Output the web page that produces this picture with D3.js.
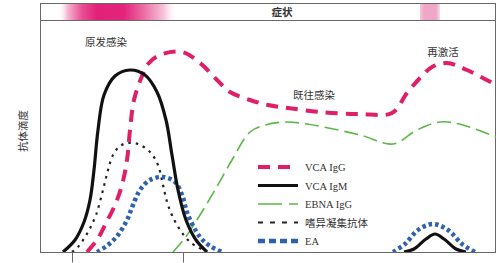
<!DOCTYPE html>
<html>
<head>
<meta charset="utf-8">
<script src="https://cdn.jsdelivr.net/npm/d3@7"></script>
<style>
  body { margin: 0; background: #fff; }
  svg { display: block; }
  .lbl { font-family: "Noto Sans CJK SC", sans-serif; fill: #333; }
  .leg { font-family: "Liberation Serif", "DejaVu Serif", serif; fill: #333; font-size: 10.5px; }
</style>
</head>
<body>
<svg id="chart" width="500" height="263"></svg>
<script>
// time (arbitrary units) / titre (arbitrary units)
var vcaIgM = [[5.75,0],[8.75,6],[11,15],[12.5,26],[13.5,41],[14.5,61],[16,78.5],[18.75,88],[22.5,91],[26.25,88.5],
  [29.25,80],[31.5,66],[33,48.5],[34.5,31],[36.5,16],[39,6],[41.75,0]];
var vcaIgM2 = [[91,0],[93.5,1.5],[96.5,6.5],[98.75,9],[101,6.5],[104,1.5],[106.5,0]];
var vcaIgG = [[11.75,0],[14.25,6],[16.25,13.5],[18.75,23.5],[20.5,33.5],[21.75,46],[22.5,61],[23.5,76],[25.5,88],[27,94],
  [30,98.5],[35.5,100],[40,94.5],[44.25,86],[47.5,80],[52.5,76],[57,73.5],[62,72],[70,70],[80,69],[88,69.5],[91.75,79.5],[95,87],
  [98,92.5],[101.75,94.5],[106.75,91],[114,83.5]];
var ebnaIgG = [[33.25,0],[36.25,7],[40,18.5],[43.75,31],[48,46],[52.5,60],[56.25,63.5],[61.25,65],[66.75,64],[80,58.5],
  [88.25,54],[94.25,61],[100,65],[105.75,63.5],[114,57.5]];
var heterophile = [[8,0],[9.5,2.5],[12,10],[14,18.5],[15.75,31],[17,41],[18.25,48.5],[20,53],[22,54.5],[24.5,54],
  [27.5,50],[29.5,43.5],[30.75,33.5],[32,23.5],[34.25,13.5],[37.5,5],[41.75,0]];
var ea = [[14.25,0],[17,3.5],[19.5,8.5],[21.75,16],[23.25,23.5],[25,31],[27.5,36],[30.75,37.5],[33.75,35],[35.5,28.5],
  [37,18.5],[40,7.5],[42.5,3],[45.5,0]];
var ea2 = [[88.25,0],[91.25,4],[94.5,11],[98.25,14],[102,11],[105.5,4],[108.75,0]];

var legendNames = ["VCA IgG", "VCA IgM", "EBNA IgG", "嗜异凝集抗体", "EA"];
var phaseLabels = [["原发感染", 16.5, 103], ["既往感染", 68.5, 76.5], ["再激活", 100.75, 98]];
var xTicks = [8, 35.75];

var svg = d3.select("#chart");
var x = d3.scaleLinear().domain([0, 114]).range([40, 496]);
var y = d3.scaleLinear().domain([0, 115]).range([252, 22]);

// symptom band
var defs = svg.append("defs");
var g1 = defs.append("linearGradient").attr("id", "sym1");
[[0, "#fff", 0], [0.08, "#f4b6d0", 1], [0.2, "#ea4f92", 1], [0.32, "#e3217a", 1], [0.55, "#e3237c", 1],
 [0.72, "#ec6fa4", 1], [0.88, "#f6c4da", 1], [1, "#fff", 0]].forEach(function (s) {
  g1.append("stop").attr("offset", s[0]).attr("stop-color", s[1]).attr("stop-opacity", s[2]);
});
var g2 = defs.append("linearGradient").attr("id", "sym2");
[[0, "#f7c8dc"], [0.2, "#f0a6c6"], [0.8, "#f0a6c6"], [1, "#f9dbe8"]].forEach(function (s) {
  g2.append("stop").attr("offset", s[0]).attr("stop-color", s[1]);
});
defs.append("clipPath").attr("id", "plot").append("rect")
  .attr("x", 40).attr("y", 20).attr("width", 456).attr("height", 232);

svg.append("rect").attr("x", 58).attr("y", 3).attr("width", 120).attr("height", 17).attr("fill", "url(#sym1)");
svg.append("rect").attr("x", 420).attr("y", 3).attr("width", 20).attr("height", 17).attr("fill", "url(#sym2)");
svg.append("text").attr("class", "lbl").attr("x", 282).attr("y", 16).attr("text-anchor", "middle")
  .attr("font-size", 10.5).attr("font-weight", "bold").attr("fill", "#222").text("症状");

// frame
var frame = svg.append("g").attr("stroke", "#6a6a6a").attr("stroke-width", 1).attr("fill", "none");
frame.append("rect").attr("x", 40.5).attr("y", 3.5).attr("width", 455).attr("height", 249);
frame.append("line").attr("x1", 40).attr("x2", 496).attr("y1", 20.5).attr("y2", 20.5);
var xAxis = d3.axisBottom(x).tickValues(xTicks).tickSize(10).tickFormat("");
var ax = svg.append("g").attr("transform", "translate(0,252.5)").call(xAxis);
ax.select(".domain").remove();
ax.selectAll("line").attr("stroke", "#6a6a6a");

svg.append("text").attr("class", "lbl").attr("transform", "translate(27,131) rotate(-90)")
  .attr("text-anchor", "middle").attr("font-size", 10.5).text("抗体滴度");

var line = d3.line().x(function (d) { return x(d[0]); }).y(function (d) { return y(d[1]); })
  .curve(d3.curveCatmullRom.alpha(0.5));

var styles = [
  { stroke: "#df1f68", width: 4, dash: "12,8" },
  { stroke: "#111", width: 3.2, dash: null },
  { stroke: "#5db648", width: 1.6, dash: "14,6" },
  { stroke: "#222", width: 2.2, dash: "2.5,5" },
  { stroke: "#2f62ad", width: 4.5, dash: "3.5,3" }
];
var series = [
  { s: 2, d: [ebnaIgG] },
  { s: 3, d: [heterophile] },
  { s: 0, d: [vcaIgG] },
  { s: 4, d: [ea, ea2] },
  { s: 1, d: [vcaIgM, vcaIgM2] }
];
var plot = svg.append("g").attr("clip-path", "url(#plot)");
series.forEach(function (ser) {
  var st = styles[ser.s];
  ser.d.forEach(function (pts) {
    plot.append("path").attr("d", line(pts)).attr("fill", "none")
      .attr("stroke", st.stroke).attr("stroke-width", st.width)
      .attr("stroke-dasharray", st.dash);
  });
});

phaseLabels.forEach(function (p) {
  svg.append("text").attr("class", "lbl").attr("x", x(p[1])).attr("y", y(p[2]))
    .attr("text-anchor", "middle").attr("font-size", 10.5).text(p[0]);
});

// legend
var legY = d3.scalePoint().domain(legendNames).range([167, 241]);
var leg = svg.append("g");
legendNames.forEach(function (n, i) {
  var st = styles[i];
  leg.append("line").attr("x1", 258).attr("x2", 298).attr("y1", legY(n)).attr("y2", legY(n))
    .attr("stroke", st.stroke).attr("stroke-width", st.width)
    .attr("stroke-dasharray", i === 2 ? "24,7" : (i === 3 ? "5,7" : (i === 4 ? "7,4" : st.dash)));
  leg.append("text").attr("x", 305).attr("y", legY(n) + 4)
    .attr("class", i === 3 ? "lbl" : "leg").attr("font-size", 10.5).text(n);
});
</script>
</body>
</html>
